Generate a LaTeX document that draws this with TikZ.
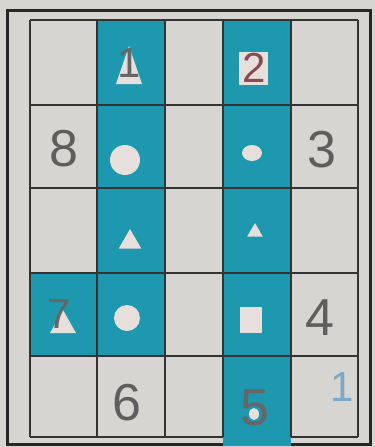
\documentclass[tikz,border=0pt]{standalone}
\usepackage{fontspec}
\setmainfont{Liberation Sans}
\usetikzlibrary{shapes.geometric}
\definecolor{paper}{HTML}{D7D5D2}
\definecolor{marker}{HTML}{1E98AF}
\definecolor{holewhite}{HTML}{E6DFDB}
\definecolor{pen}{HTML}{5E5E5E}
\definecolor{redpen}{HTML}{8A4A50}
\definecolor{bluepen}{HTML}{7BA8C8}
\tikzset{
    gridline/.style={draw=black!80, line width=1pt},
    hole/.style={fill=holewhite, draw=none, inner sep=0pt},
    digit/.style={font=\fontsize{26}{26}\selectfont, text=pen, inner sep=0pt},
    smalldigit/.style={font=\fontsize{21}{21}\selectfont, inner sep=0pt},
}
\begin{document}
\begin{tikzpicture}[x=0.5pt, y=-0.5pt]
    \fill[paper] (0,0) rectangle (375,447);
    \useasboundingbox (0,0) rectangle (375,447);
    % outer frame
    \draw[line width=1.5pt, black!85] (8,10) rectangle (371,444);
    % coloured strips
    \fill[marker] (97,20) rectangle (165,356);
    \fill[marker] (223,20) rectangle (291,446);
    \fill[marker] (30,273) rectangle (97,356);
    % grid
    \foreach \x in {30,97,165,223,291,358} { \draw[gridline] (\x,20) -- (\x,437); }
    \foreach \y in {20,105,188,273,356} { \draw[gridline] (30,\y) -- (358,\y); }
    \draw[gridline] (30,437) -- (223,437);
    \draw[gridline] (291,437) -- (358,437);
    % white shapes
    \fill[holewhite] (116,84) -- (129,46) -- (142,84) -- cycle;
    \node[hole, rectangle, minimum width=14.5pt, minimum height=16.5pt] (sqa) at (254,68) {};
    \node[hole, circle, minimum size=15pt] (cira) at (125,160) {};
    \node[hole, ellipse, minimum width=10pt, minimum height=8pt] (cirb) at (252,153) {};
    \node[hole, regular polygon, regular polygon sides=3, minimum size=13pt] (tria) at (130,242) {};
    \node[hole, regular polygon, regular polygon sides=3, minimum size=9pt] (trib) at (255,232) {};
    \fill[holewhite] (50,333) -- (63,310) -- (76,333) -- cycle;
    \node[hole, circle, minimum size=13pt] (circ) at (127,318) {};
    \node[hole, rectangle, minimum width=11pt, minimum height=13pt] (sqb) at (251,320) {};
    \node[hole, ellipse, minimum width=5pt, minimum height=6pt] (blob) at (254,414) {};
    % numbers
    \node[smalldigit, text=black!60] (n1) at (129,63) {1};
    \node[smalldigit, text=redpen] (n2) at (254,68) {2};
    \node[digit] (n8) at (64,149) {8};
    \node[digit] (n3) at (322,150) {3};
    \node[smalldigit, text=black!60] (n7) at (59,314) {7};
    \node[digit] (n4) at (320,318) {4};
    \node[digit] (n6) at (127,403) {6};
    \node[digit, text=black!60] (n5) at (255,408) {5};
    \node[smalldigit, text=bluepen] (nb) at (342,387) {1};
\end{tikzpicture}
\end{document}
